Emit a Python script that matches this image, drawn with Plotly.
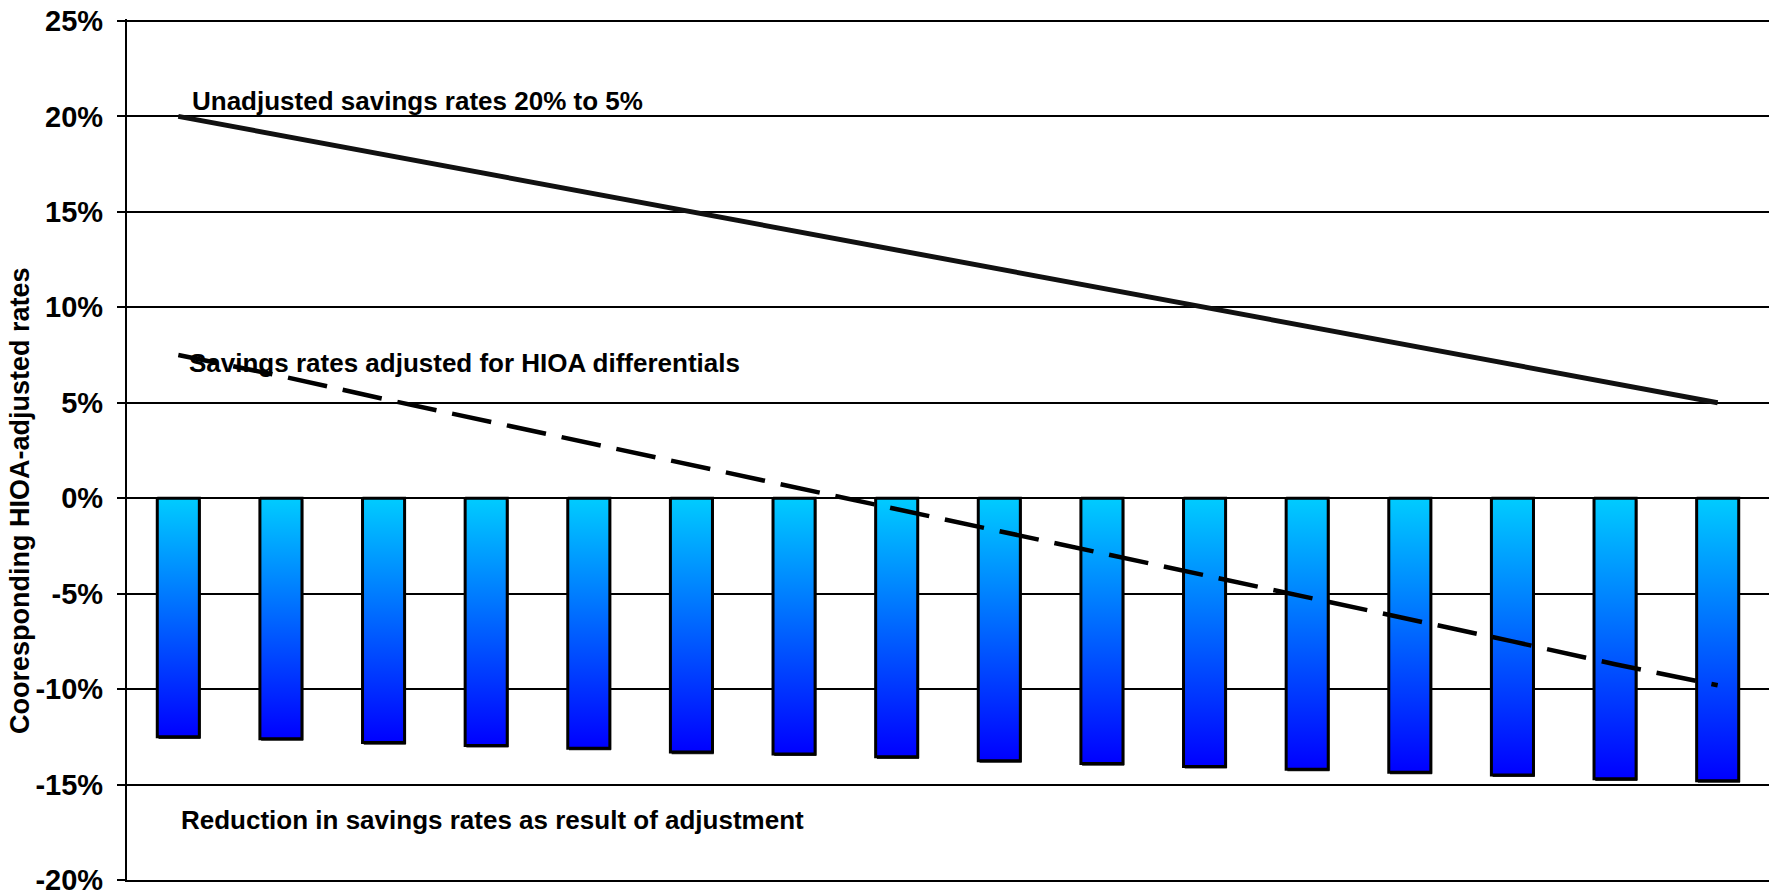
import plotly.graph_objects as go

# Sixteen steps from the highest to the lowest savings rate
steps = list(range(16))

# Unadjusted savings rates, 20% down to 5% (percent)
unadjusted = [20, 19, 18, 17, 16, 15, 14, 13, 12, 11, 10, 9, 8, 7, 6, 5]

# Reduction in savings rates as result of the HIOA adjustment (percent)
reduction = [-12.5, -12.6, -12.8, -12.95, -13.1, -13.3, -13.4, -13.55,
             -13.75, -13.9, -14.05, -14.2, -14.35, -14.5, -14.7, -14.8]

# Savings rates adjusted for HIOA differentials (percent)
adjusted = [7.5, 6.4, 5.2, 4.05, 2.9, 1.7, 0.6, -0.55,
            -1.75, -2.9, -4.05, -5.2, -6.35, -7.5, -8.7, -9.8]

y_ticks = [25, 20, 15, 10, 5, 0, -5, -10, -15, -20]

FONT = "Liberation Sans, Arial, sans-serif"
BAR_HALF = 0.205
GRADIENT = [[0.0, "#0000FF"], [0.5, "#0066FF"], [1.0, "#00CCFF"]]
SHADOW_DX, SHADOW_DY = 0.012, -0.11


def column(x, top, bottom, dx=0.0):
    xs = [x - BAR_HALF + dx, x + BAR_HALF + dx, x + BAR_HALF + dx, x - BAR_HALF + dx, x - BAR_HALF + dx]
    ys = [top, top, bottom, bottom, top]
    return xs, ys


fig = go.Figure()

# Soft drop shadow under each column
for x, v in zip(steps, reduction):
    xs, ys = column(x, SHADOW_DY, v + SHADOW_DY, SHADOW_DX)
    fig.add_trace(go.Scatter(
        x=xs, y=ys, mode="lines", fill="toself",
        fillcolor="rgba(0,0,0,0.85)", line=dict(width=0),
        hoverinfo="skip", showlegend=False,
    ))

# Each reduction bar is a filled column with a vertical blue gradient
for x, v in zip(steps, reduction):
    xs, ys = column(x, 0, v)
    fig.add_trace(go.Scatter(
        x=xs, y=ys,
        mode="lines",
        fill="toself",
        fillgradient=dict(type="vertical", colorscale=GRADIENT),
        line=dict(color="black", width=3),
        hoverinfo="text",
        text=f"{v:.2f}%",
        showlegend=False,
    ))

fig.add_trace(go.Scatter(
    x=steps, y=adjusted, mode="lines",
    line=dict(color="black", width=4.5, dash="40px,16px"),
    showlegend=False,
))

fig.add_trace(go.Scatter(
    x=steps, y=unadjusted, mode="lines",
    line=dict(color="#111111", width=5),
    showlegend=False,
))

label_font = dict(family=FONT, size=26, color="black", weight="bold")
fig.add_annotation(text="Unadjusted savings rates 20% to 5%", xref="paper", yref="y",
                   x=0.0385, y=20.8, xanchor="left", yanchor="middle",
                   showarrow=False, font=label_font)
fig.add_annotation(text="Savings rates adjusted for HIOA differentials", xref="paper", yref="y",
                   x=0.0365, y=7.1, xanchor="left", yanchor="middle",
                   showarrow=False, font=label_font)
fig.add_annotation(text="Reduction in savings rates as result of adjustment", xref="paper", yref="y",
                   x=0.0318, y=-16.85, xanchor="left", yanchor="middle",
                   showarrow=False, font=label_font)
fig.add_annotation(text="Cooresponding HIOA-adjusted rates", xref="paper", yref="y",
                   x=-0.0652, y=-0.1, xanchor="center", yanchor="middle", textangle=-90,
                   showarrow=False, font=dict(family=FONT, size=27, color="black", weight="bold"))

fig.update_xaxes(
    range=[-0.5, 15.5], showgrid=False, zeroline=False, showticklabels=False,
    ticks="", showline=True, linecolor="black", linewidth=2.2,
)
fig.update_yaxes(
    range=[-20, 25.1], tickvals=y_ticks, ticktext=[f"{t}%" for t in y_ticks],
    showgrid=True, gridcolor="black", gridwidth=2.2, zeroline=False,
    showline=True, linecolor="black", linewidth=2.2,
    ticks="outside", ticklen=8, tickwidth=2.2, tickcolor="black",
    ticklabelstandoff=8, ticklabeloverflow="allow",
    tickfont=dict(family=FONT, size=29, color="black", weight="bold"),
)

fig.update_layout(
    width=1769, height=896,
    margin=dict(l=127, r=0, t=19, b=14),
    plot_bgcolor="white", paper_bgcolor="white",
    showlegend=False,
)

fig.write_html("out.html", config={"displayModeBar": False})
